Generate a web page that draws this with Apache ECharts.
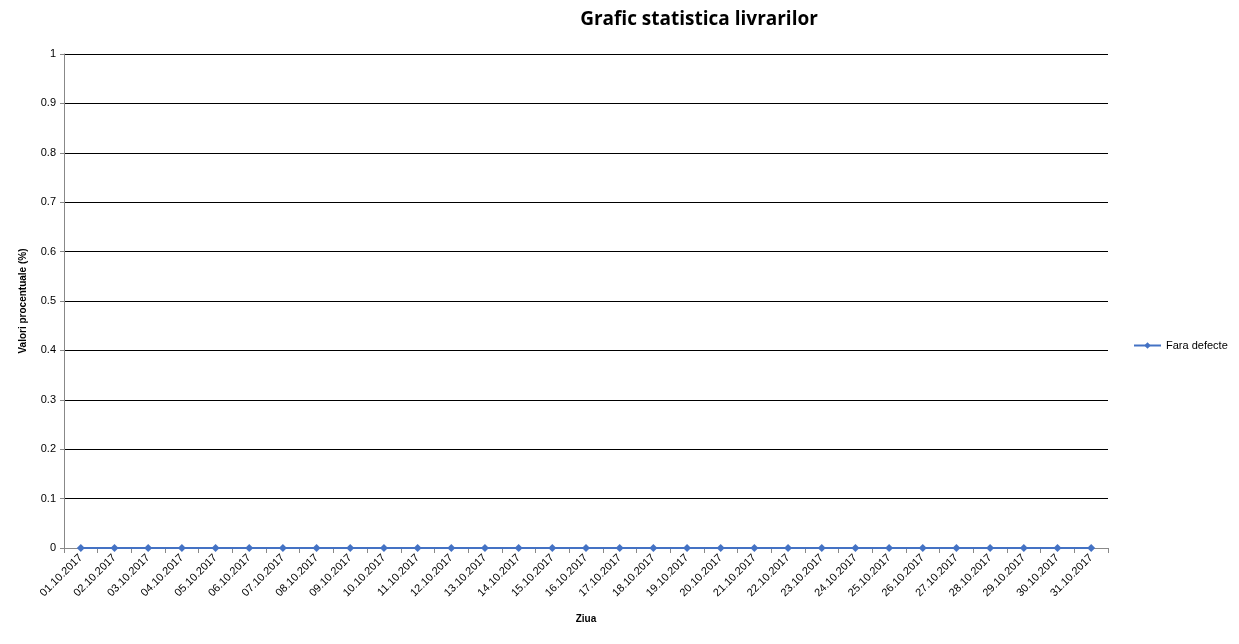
<!DOCTYPE html>
<html><head><meta charset="utf-8">
<script src="https://cdn.jsdelivr.net/npm/echarts@6/dist/echarts.min.js"></script>
<style>html,body{margin:0;background:#fff}#c{width:1239px;height:644px}</style>
</head><body><div id="c"></div>
<script>
const categories = [];
for (let d = 1; d <= 31; d++) categories.push((d < 10 ? '0' + d : '' + d) + '.10.2017');
const faraDefecte = [0,0,0,0,0,0,0,0,0,0,0,0,0,0,0,0,0,0,0,0,0,0,0,0,0,0,0,0,0,0,0];
const yTicks = { min: 0, max: 1, interval: 0.1 };
const chart = echarts.init(document.getElementById('c'));
chart.setOption({
  animation: false,
  textStyle: { fontFamily: 'Liberation Sans, Arial, sans-serif' },
  title: { text: 'Grafic statistica livrarilor', left: 694, top: 5, textAlign: 'center',
    textStyle: { fontSize: 19, fontWeight: 'bold', color: '#000', fontFamily: 'Open Sans, sans-serif' } },
  legend: { orient: 'vertical', left: 1128, top: 335, itemWidth: 27, itemHeight: 8, itemGap: 4,
    textStyle: { fontSize: 11, color: '#000' }, data: ['Fara defecte'] },
  grid: { left: 64, right: 131, top: 54, bottom: 96 },
  xAxis: { type: 'category', data: categories, boundaryGap: true, name: 'Ziua',
    nameLocation: 'middle', nameGap: 66,
    nameTextStyle: { fontSize: 10, fontWeight: 'bold', color: '#000' },
    axisLine: { lineStyle: { color: '#888' } },
    axisTick: { show: true, alignWithLabel: false, lineStyle: { color: '#888' } },
    axisLabel: { rotate: 45, fontSize: 11, color: '#000', interval: 0, margin: 8 } },
  yAxis: { type: 'value', min: yTicks.min, max: yTicks.max, interval: yTicks.interval,
    name: 'Valori procentuale (%)', nameLocation: 'middle', nameGap: 36,
    nameTextStyle: { fontSize: 10, fontWeight: 'bold', color: '#000' },
    axisLine: { show: true, lineStyle: { color: '#888' } },
    axisTick: { show: true, length: 4, lineStyle: { color: '#888' } },
    axisLabel: { fontSize: 11, color: '#000', formatter: v => String(Math.round(v*10)/10) },
    splitLine: { lineStyle: { color: '#000', width: 1 } } },
  series: [{ name: 'Fara defecte', type: 'line', data: faraDefecte,
    symbol: 'path://M0,4L4,0L8,4L4,8Z', symbolSize: 8,
    itemStyle: { color: '#4472C4' }, lineStyle: { color: '#4472C4', width: 2 } }]
});
</script></body></html>
